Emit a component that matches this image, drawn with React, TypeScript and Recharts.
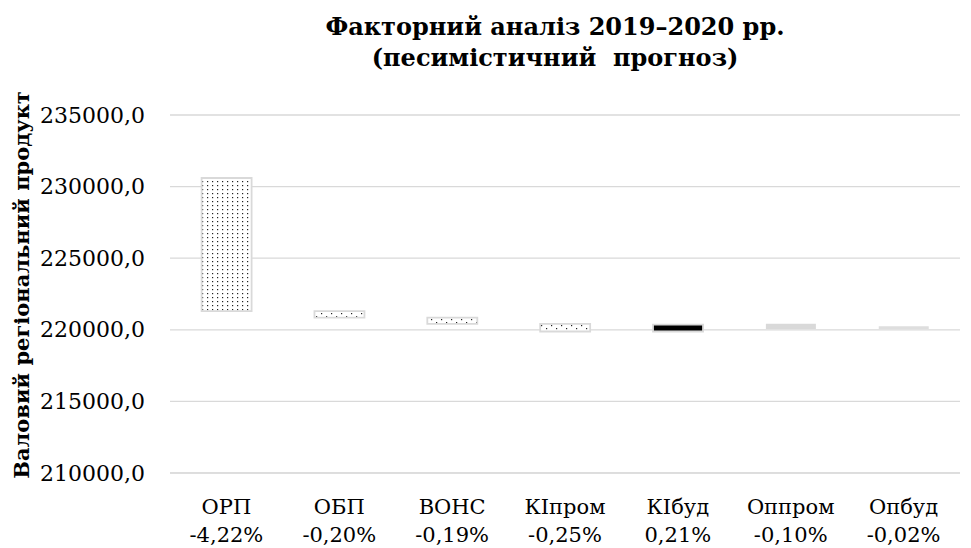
import { BarChart, Bar, XAxis, YAxis, CartesianGrid, Cell } from "recharts";

const factors = ["ОРП", "ОБП", "ВОНС", "КІпром", "КІбуд", "Оппром", "Опбуд"];
const shares = ["-4,22%", "-0,20%", "-0,19%", "-0,25%", "0,21%", "-0,10%", "-0,02%"];
const lows = [221300, 220850, 220420, 219880, 219880, 220060, 220060];
const highs = [230600, 221300, 220850, 220420, 220360, 220420, 220240];
const yTicks = [210000, 215000, 220000, 225000, 230000, 235000];

const fills = ["url(#dotsDense)", "url(#dotsSparse)", "url(#dotsSparse)", "url(#dotsSparse)", "#000000", "#d9d9d9", "#dedede"];
const strokes = ["#d9d9d9", "#d9d9d9", "#d9d9d9", "#d9d9d9", "#d9d9d9", "none", "none"];

const data = factors.map((f, i) => ({ name: f, share: shares[i], range: [lows[i], highs[i]] }));

const FONT = "DejaVu Serif";

function XTick({ x, y, payload }: any) {
  const share = data[payload.index]?.share;
  return (
    <text x={x} y={y} textAnchor="middle" style={{ fontFamily: FONT, fontSize: 21 }} fill="#000">
      <tspan x={x} dy={33}>{payload.value}</tspan>
      <tspan x={x} dy={28}>{share}</tspan>
    </text>
  );
}

function YTick({ x, y, payload }: any) {
  return (
    <text x={x - 17} y={y} textAnchor="end" dominantBaseline="central"
      style={{ fontFamily: FONT, fontSize: 22 }} fill="#000">
      {payload.value.toFixed(1).replace(".", ",")}
    </text>
  );
}

export default function App() {
  return (
    <div style={{ width: 971, height: 548, position: "relative", background: "#fff", fontFamily: FONT }}>
      <style>{`body{margin:0}`}</style>
      <div style={{ position: "absolute", top: 11, left: 150, width: 810, textAlign: "center", fontWeight: "bold", fontSize: 24, lineHeight: "31px", color: "#000" }}>
        Факторний аналіз 2019–2020 рр.
        <br />
        (песимістичний&nbsp; прогноз)
      </div>
      <BarChart width={971} height={548} data={data}
        margin={{ top: 115, right: 11, left: 0, bottom: 45 }} barCategoryGap="28%">
        <defs>
          <pattern id="dotsDense" width="5" height="4" patternUnits="userSpaceOnUse">
            <rect width="5" height="4" fill="#fff" />
            <rect x="2" y="1" width="1.2" height="1.2" fill="#222" />
          </pattern>
          <pattern id="dotsSparse" width="10" height="6" patternUnits="userSpaceOnUse">
            <rect width="10" height="6" fill="#fff" />
            <rect x="1" y="1" width="1.2" height="1.2" fill="#222" />
            <rect x="6" y="4" width="1.2" height="1.2" fill="#222" />
          </pattern>
        </defs>
        <CartesianGrid vertical={false} stroke="#d9d9d9" strokeWidth={1.3} />
        <XAxis dataKey="name" interval={0} height={30} tickLine={false} axisLine={{ stroke: "#d9d9d9" }} tick={<XTick />} />
        <YAxis domain={[210000, 235000]} ticks={yTicks} width={170} tickLine={false} axisLine={false}
          tick={<YTick />}
          label={{
            content: (p: any) => {
              const vb = p.viewBox;
              const cy = vb.y + vb.height / 2 - 9;
              return (
                <text x={21} y={cy} transform={`rotate(-90 21 ${cy})`} textAnchor="middle" dominantBaseline="central"
                  style={{ fontFamily: FONT, fontWeight: "bold", fontSize: 21 }} fill="#000">
                  Валовий регіональний продукт
                </text>
              );
            },
          }} />
        <Bar dataKey="range" isAnimationActive={false} strokeWidth={1.8}>
          {data.map((d, i) => (
            <Cell key={d.name} fill={fills[i]} stroke={strokes[i]} />
          ))}
        </Bar>
      </BarChart>
    </div>
  );
}
